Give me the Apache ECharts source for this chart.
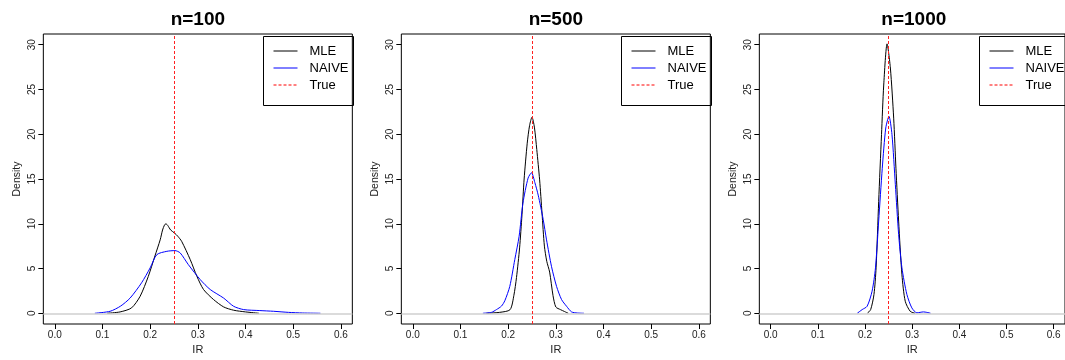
<!DOCTYPE html>
<html>
<head>
<meta charset="utf-8">
<script src="https://cdn.jsdelivr.net/npm/echarts@6/dist/echarts.min.js"></script>
<style>html,body{margin:0;padding:0;background:#fff;}#c{width:1065px;height:360px;}</style>
</head>
<body>
<div id="c"></div>
<script>
// ---- data ----
const titles = ['n=100', 'n=500', 'n=1000'];
const irTicks = [0, 0.1, 0.2, 0.3, 0.4, 0.5, 0.6];
const densityTicks = [0, 5, 10, 15, 20, 25, 30];
const trueValue = 0.25;

const mle100 = [[0.11,0],[0.137,0.15],[0.161,0.6],[0.179,1.9],[0.196,4.1],[0.210,6.4],[0.221,8.2],[0.226,9.3],[0.230,9.85],[0.233,10.0],[0.237,9.8],[0.243,9.3],[0.251,8.97],[0.258,8.6],[0.266,8.04],[0.284,6.0],[0.298,4.13],[0.312,2.65],[0.333,1.53],[0.354,0.71],[0.375,0.34],[0.400,0.15],[0.428,0]];
const naive100 = [[0.084,0],[0.116,0.22],[0.138,0.8],[0.158,1.7],[0.182,3.4],[0.200,5.07],[0.214,6.55],[0.235,6.92],[0.252,7.0],[0.263,6.74],[0.280,5.44],[0.305,3.76],[0.326,2.65],[0.354,1.7],[0.375,0.78],[0.396,0.41],[0.430,0.3],[0.459,0.22],[0.490,0.1],[0.520,0.03],[0.557,0]];

const mle500 = [[0.154,0],[0.182,0.1],[0.204,0.4],[0.212,2.0],[0.2175,4.0],[0.224,7.3],[0.229,11.0],[0.2335,15.0],[0.240,19.0],[0.245,21.0],[0.250,21.9],[0.255,20.8],[0.260,18.3],[0.266,14.9],[0.271,11.2],[0.276,7.5],[0.281,5.8],[0.287,4.6],[0.294,2.0],[0.300,0.7],[0.310,0.4],[0.318,0.2],[0.326,0]];
const naive500 = [[0.147,0],[0.165,0.1],[0.1755,0.41],[0.186,0.8],[0.193,1.4],[0.2034,3.0],[0.2139,6.0],[0.223,8.6],[0.231,12.3],[0.2418,15.1],[0.249,15.7],[0.256,14.6],[0.263,13.2],[0.2734,10.5],[0.2805,8.2],[0.291,5.2],[0.3015,3.0],[0.312,1.53],[0.3225,0.78],[0.333,0.15],[0.345,0.03],[0.359,0]];

const mle1000 = [[0.205,0],[0.212,0.41],[0.219,2.1],[0.2235,5.07],[0.229,12.5],[0.235,19.95],[0.2397,25.5],[0.2468,30.1],[0.2538,27.4],[0.2608,21.8],[0.2656,16.2],[0.2713,10.3],[0.2783,4.3],[0.2853,1.34],[0.2958,0.22],[0.306,0]];
const naive1000 = [[0.1836,0],[0.194,0.41],[0.2045,0.78],[0.215,2.46],[0.2222,5.07],[0.229,10.3],[0.2366,16.2],[0.244,20.7],[0.2508,22.0],[0.2572,19.95],[0.2643,14.4],[0.2713,8.8],[0.2783,5.07],[0.2888,2.1],[0.2993,0.6],[0.310,0.05],[0.3239,0.15],[0.331,0.1],[0.339,0]];

const mleSets = [mle100, mle500, mle1000];
const naiveSets = [naive100, naive500, naive1000];

// ---- layout ----
const FONT = '"Liberation Sans", Arial, Helvetica, sans-serif';
const gridLefts = [43.34, 401.34, 759.34];
const gridW = 309, gridTop = 34, gridH = 290;
const legW = 90, legH = 69;
const COL = {MLE: '#000000', NAIVE: '#0000ff', True: '#ff0000'};

const grids = [], xAxes = [], yAxes = [], series = [], titleArr = [], legends = [], graphics = [];
for (let i = 0; i < 3; i++) {
  const L = gridLefts[i];
  grids.push({left: L, top: gridTop, width: gridW, height: gridH, show: true,
    borderColor: '#000', borderWidth: 1, backgroundColor: 'transparent', containLabel: false});
  xAxes.push({type: 'value', gridIndex: i, min: -0.024, max: 0.624,
    name: 'IR', nameLocation: 'middle', nameGap: 20, nameMoveOverlap: false,
    nameTextStyle: {fontFamily: FONT, fontSize: 11, color: '#222'},
    axisLine: {show: false, onZero: false}, splitLine: {show: false},
    axisTick: {show: true, length: 5, inside: false, customValues: irTicks, lineStyle: {color: '#000'}},
    axisLabel: {customValues: irTicks, margin: 6, fontFamily: FONT, fontSize: 10, color: '#222',
      formatter: v => Number(v).toFixed(1)}
  });
  yAxes.push({type: 'value', gridIndex: i, min: -1.2, max: 31.2,
    name: 'Density', nameLocation: 'middle', nameGap: 21, nameMoveOverlap: false,
    nameTextStyle: {fontFamily: FONT, fontSize: 10.5, color: '#222'},
    axisLine: {show: false, onZero: false}, splitLine: {show: false},
    axisTick: {show: true, length: 5, inside: false, customValues: densityTicks, lineStyle: {color: '#000'}},
    axisLabel: {customValues: densityTicks, rotate: 90, margin: 6, fontFamily: FONT, fontSize: 10, color: '#222'}
  });
  titleArr.push({text: titles[i], left: L + gridW / 2, top: 10, textAlign: 'center', padding: 0,
    textStyle: {fontFamily: FONT, fontSize: 19, fontWeight: 'bold', color: '#000'}});
  const boxL = Math.round(L + gridW - legW - 1);
  legends.push({
    data: [
      {name: 'MLE', lineStyle: {color: COL.MLE, width: 1, type: 'solid'}},
      {name: 'NAIVE', lineStyle: {color: COL.NAIVE, width: 1, type: 'solid'}},
      {name: 'True', lineStyle: {color: COL.True, width: 1, type: [3, 2]}}
    ],
    orient: 'vertical', left: boxL + 12, top: 44.5,
    itemWidth: 24, itemHeight: 14, itemGap: 4, padding: 0, selectedMode: false,
    itemStyle: {opacity: 0, borderWidth: 0},
    textStyle: {fontFamily: FONT, fontSize: 13, color: '#000', padding: [0, 0, 0, 7]}});
  graphics.push({type: 'rect', left: boxL, top: gridTop, shape: {width: legW, height: legH},
    style: {fill: 'none', stroke: '#000', lineWidth: 1}, silent: true});

  series.push({name: 'zero', type: 'line', xAxisIndex: i, yAxisIndex: i, data: [], silent: true,
    markLine: {silent: true, symbol: 'none', label: {show: false}, animation: false,
      lineStyle: {color: '#cfcfcf', type: 'solid', width: 1.6}, data: [{yAxis: 0}]}});
  series.push({name: 'MLE', type: 'line', xAxisIndex: i, yAxisIndex: i, data: mleSets[i],
    symbol: 'none', smooth: 0.25, color: COL.MLE, lineStyle: {color: COL.MLE, width: 1}, animation: false});
  series.push({name: 'NAIVE', type: 'line', xAxisIndex: i, yAxisIndex: i, data: naiveSets[i],
    symbol: 'none', smooth: 0.25, color: COL.NAIVE, lineStyle: {color: COL.NAIVE, width: 1}, animation: false});
  series.push({name: 'True', type: 'line', xAxisIndex: i, yAxisIndex: i, data: [],
    symbol: 'none', color: COL.True, lineStyle: {color: COL.True, width: 1, type: [3, 2]}, animation: false,
    markLine: {silent: true, symbol: 'none', label: {show: false}, animation: false,
      lineStyle: {color: '#ff2020', type: [3, 2], width: 1}, data: [{xAxis: trueValue}]}});
}

const chart = echarts.init(document.getElementById('c'), null, {renderer: 'canvas'});
chart.setOption({
  animation: false,
  backgroundColor: '#fff',
  title: titleArr,
  legend: legends,
  grid: grids,
  xAxis: xAxes,
  yAxis: yAxes,
  graphic: graphics,
  series: series
});
</script>
</body>
</html>
